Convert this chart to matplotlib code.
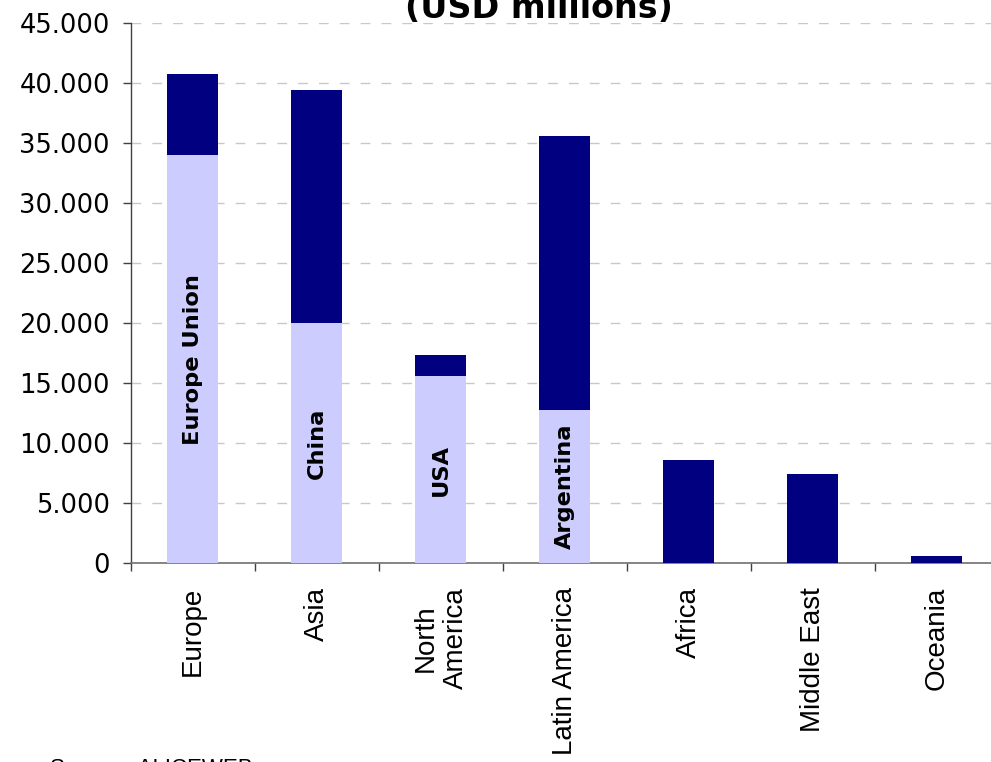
import matplotlib
matplotlib.use("Agg")
import matplotlib.pyplot as plt
import numpy as np
from matplotlib.ticker import FuncFormatter

# Data (USD millions)
regions = ["Europe", "Asia", "North\nAmerica", "Latin America", "Africa", "Middle East", "Oceania"]
region_totals = [40775, 39450, 17360, 35600, 8600, 7450, 600]
country_labels = ["Europe Union", "China", "USA", "Argentina", "", "", ""]
country_values = [34020, 20030, 15600, 12780, 0, 0, 0]
yticks = [0, 5000, 10000, 15000, 20000, 25000, 30000, 35000, 40000, 45000]

light = "#CCCCFF"
dark = "#000080"

fig = plt.figure(figsize=(9.91, 7.62), dpi=100)
ax = fig.add_axes([130.7/991, 198.7/762, 868/991, 540/762])

x = np.arange(len(regions))
rest = [t - c for t, c in zip(region_totals, country_values)]
ax.bar(x, country_values, width=0.41, color=light, zorder=3)
ax.bar(x, rest, bottom=country_values, width=0.41, color=dark, zorder=3)

for xi, lab, val in zip(x, country_labels, country_values):
    if lab:
        ax.text(xi, val / 2, lab, rotation=90, ha="center", va="center",
                fontsize=16.2, fontweight="bold", color="black", zorder=4,
                family="DejaVu Sans")

ax.set_xlim(-0.5, len(regions) - 0.5)
ax.set_ylim(0, 45000)
ax.set_yticks(yticks)
ax.yaxis.set_major_formatter(FuncFormatter(lambda v, p: f"{int(v):,}".replace(",", ".")))
for t in ax.get_yticklabels():
    t.set_fontsize(18.5)
    t.set_family("DejaVu Sans")
ax.tick_params(axis="y", direction="out", length=6, width=1, color="#404040", pad=9)

ax.set_xticks(np.arange(len(regions) + 1) - 0.5)
ax.set_xticklabels([])
ax.set_xticks(x, minor=True)
ax.set_xticklabels(regions, minor=True, rotation=90, ha="center", va="top",
                   fontsize=20, family="Liberation Sans", multialignment="center")
ax.tick_params(axis="x", which="major", direction="out", length=6, width=1, color="#404040")
ax.tick_params(axis="x", which="minor", length=0, pad=17)

ax.grid(axis="y", color="#C8C8C8", linestyle=(0, (7, 8)), linewidth=1, zorder=0)
ax.set_axisbelow(True)
for s in ["top", "right"]:
    ax.spines[s].set_visible(False)
ax.spines["left"].set_color("#404040")
ax.spines["bottom"].set_color("#707070")
ax.spines["left"].set_linewidth(1)
ax.spines["bottom"].set_linewidth(1.2)

fig.text(539/991, 1 - 18/762, "(USD millions)", ha="center", va="baseline",
         fontsize=24, fontweight="bold", family="DejaVu Sans")
fig.text(50/991, 1 - 758/762, "Source:  ALICEWEB", ha="left", va="top",
         fontsize=16, family="Liberation Sans")

fig.savefig("out.png", dpi=100)
